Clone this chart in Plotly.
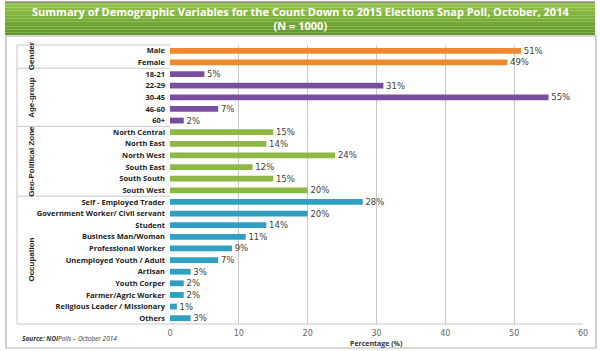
import plotly.graph_objects as go

categories = ["Male", "Female",
              "18-21", "22-29", "30-45", "46-60", "60+",
              "North Central", "North East", "North West", "South East", "South South", "South West",
              "Self - Employed Trader", "Government Worker/ Civil servant", "Student",
              "Business Man/Woman", "Professional Worker", "Unemployed Youth / Adult",
              "Artisan", "Youth Corper", "Farmer/Agric Worker",
              "Religious Leader / Missionary", "Others"]
values = [51, 49,
          5, 31, 55, 7, 2,
          15, 14, 24, 12, 15, 20,
          28, 20, 14, 11, 9, 7, 3, 2, 2, 1, 3]
groups = ["Gender", "Age-group", "Geo-Political Zone", "Occupation"]
group_sizes = [2, 5, 6, 11]
group_colors = ["#F0882F", "#7A4E9E", "#8CB845", "#2FA0C2"]
x_ticks = [0, 10, 20, 30, 40, 50, 60]

bar_colors = []
for c, s in zip(group_colors, group_sizes):
    bar_colors += [c] * s

n = len(categories)
fig = go.Figure()
fig.add_trace(go.Bar(
    y=list(range(n)), x=values, orientation="h",
    marker=dict(color=bar_colors, line=dict(width=0)),
    width=0.5,
    text=[f"\u00a0{v}%" for v in values], textposition="outside",
    constraintext="none",
    textfont=dict(family="DejaVu Sans", size=8.5, color="#404040"),
    cliponaxis=False, showlegend=False,
    hoverinfo="skip",
))

shapes = []
# outer frame
shapes.append(dict(type="rect", xref="paper", yref="paper",
                   x0=(6 - 170) / 413, x1=(596 - 170) / 413,
                   y0=(324 - 348) / 279, y1=(324 - 36) / 279,
                   line=dict(color="#B0B0B0", width=1.2), fillcolor="rgba(0,0,0,0)", layer="below"))
# title banner gradient (stacked strips)
top_c = (0x92, 0xC4, 0x47)
bot_c = (0x62, 0x98, 0x2A)
ban_top, ban_bot = 2, 35
steps = 12
for i in range(steps):
    t = i / (steps - 1)
    col = tuple(int(top_c[k] + (bot_c[k] - top_c[k]) * t) for k in range(3))
    y_a = ban_top + (ban_bot - ban_top) * i / steps
    y_b = ban_top + (ban_bot - ban_top) * (i + 1) / steps
    shapes.append(dict(type="rect", xref="paper", yref="paper",
                       x0=(5 - 170) / 413, x1=(595 - 170) / 413,
                       y0=(324 - y_b) / 279, y1=(324 - y_a) / 279,
                       line=dict(width=0), fillcolor="rgb(%d,%d,%d)" % col, layer="below"))
shapes.append(dict(type="line", xref="paper", yref="paper",
                   x0=(5 - 170) / 413, x1=(595 - 170) / 413,
                   y0=(324 - 2) / 279, y1=(324 - 2) / 279,
                   line=dict(color="#8A8A8A", width=1.5)))
# category panel lines
panel_left = (17 - 170) / 413
shapes.append(dict(type="line", xref="paper", yref="paper",
                   x0=panel_left, x1=panel_left, y0=0, y1=1,
                   line=dict(color="#C8C8C8", width=1)))
shapes.append(dict(type="line", xref="paper", yref="paper",
                   x0=panel_left, x1=0, y0=1, y1=1,
                   line=dict(color="#C8C8C8", width=1)))
shapes.append(dict(type="line", xref="paper", yref="paper",
                   x0=panel_left, x1=1, y0=0, y1=0,
                   line=dict(color="#C8C8C8", width=1)))
start = 0
annotations = []
for g, s in zip(groups, group_sizes):
    end = start + s
    if end < n:
        shapes.append(dict(type="line", xref="paper", yref="y",
                           x0=panel_left, x1=0, y0=end - 0.5, y1=end - 0.5,
                           line=dict(color="#C8C8C8", width=1)))
    annotations.append(dict(text=f"<b>{g}</b>", xref="paper", yref="y",
                            x=(25 - 170) / 413, y=(start + end - 1) / 2,
                            textangle=-90, showarrow=False,
                            font=dict(family="Liberation Sans Narrow, Liberation Sans", size=8, color="#222")))
    start = end

annotations.append(dict(text="<b>Summary of Demographic Variables for the Count Down to 2015 Elections Snap Poll, October, 2014</b><br><b>(N = 1000)</b>",
                        xref="paper", yref="paper", x=(300 - 170) / 413, y=(324 - 18.5) / 279,
                        showarrow=False, xanchor="center", yanchor="middle",
                        font=dict(family="Open Sans", size=11, color="white")))
annotations.append(dict(text="<b><i>Source:</i></b> <b><i>NOI</i></b><i>Polls – October 2014</i>",
                        xref="paper", yref="paper", x=(20 - 170) / 413, y=(324 - 338) / 279,
                        showarrow=False, xanchor="left", yanchor="middle",
                        font=dict(family="Open Sans", size=6.5, color="#333")))
annotations.append(dict(text="<b>Percentage (%)</b>", xref="paper", yref="paper",
                        x=(376 - 170) / 413, y=(324 - 343) / 279, showarrow=False,
                        xanchor="center", yanchor="middle",
                        font=dict(family="Open Sans", size=7, color="#333")))

fig.update_layout(
    width=600, height=351,
    margin=dict(l=170, r=17, t=45, b=27),
    paper_bgcolor="white", plot_bgcolor="white",
    shapes=shapes, annotations=annotations,
    xaxis=dict(range=[0, 60], tickvals=x_ticks, showgrid=True, gridcolor="#C8C8C8",
               gridwidth=1, zeroline=False, showline=False, ticks="",
               ticklabelstandoff=3,
               tickfont=dict(family="DejaVu Sans", size=8, color="#666")),
    yaxis=dict(range=[n - 0.5, -0.5], tickvals=list(range(n)), ticktext=[f"<b>{c}</b>" for c in categories],
               showgrid=False, zeroline=False, showline=False, ticks="",
               ticklabelstandoff=4,
               tickfont=dict(family="Open Sans", size=7.5, color="#222")),
    bargap=0.5,
)
fig.write_html("out.html")
